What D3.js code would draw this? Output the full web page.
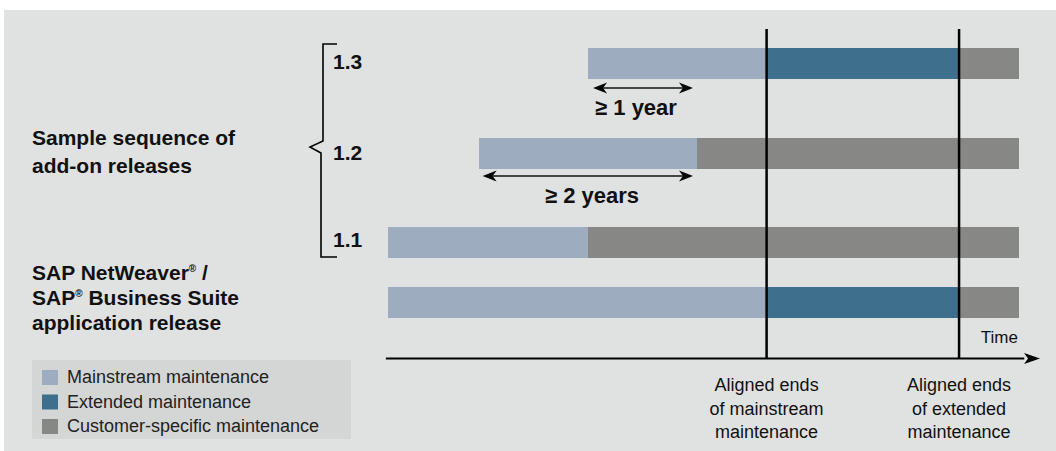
<!DOCTYPE html>
<html><head><meta charset="utf-8">
<script src="https://cdn.jsdelivr.net/npm/d3@7"></script>
<style>
html,body{margin:0;padding:0;background:#fff;}
svg{display:block;font-family:"Liberation Sans",Arial,sans-serif;}
</style></head>
<body><svg id="c" width="1056" height="451"></svg>
<script>
// ---- data (time in years from the first release start) ----
const releases = ["1.3", "1.2", "1.1", "app"];
const mainStart = [1.9, 0.87, 0, 0];
const mainEnd   = [3.6, 2.94, 1.9, 3.6];
const extEnd    = [5.43, 2.94, 1.9, 5.43];
const endTime   = [6, 6, 6, 6];
const alignedEnds = [3.6, 5.43];
const alignedLabels = [["Aligned ends","of mainstream","maintenance"],["Aligned ends","of extended","maintenance"]];
const gapArrows = [{from:1.95, to:2.9, row:0, label:"≥ 1 year"},{from:0.9, to:2.9, row:1, label:"≥ 2 years"}];
const legendNames = ["Mainstream maintenance","Extended maintenance","Customer-specific maintenance"];
const legendColors = ["#9dacbf","#3e6f8d","#878786"];

// ---- layout ----
const svg = d3.select("#c");
svg.append("rect").attr("x",4).attr("y",10).attr("width",1052).attr("height",441).attr("fill","#e0e1e1");

const x = d3.scaleLinear().domain([0,6]).range([388,1019]);
const y = d3.scaleLinear().domain([0,1]).range([48,137.5]);
const rowPos = [0,1,2,2.67];
const barH = 31;

// bars
const segs = [];
releases.forEach((r,i)=>{
  segs.push({i, a:mainStart[i], b:mainEnd[i], c:legendColors[0]});
  if (extEnd[i] > mainEnd[i]) segs.push({i, a:mainEnd[i], b:extEnd[i], c:legendColors[1]});
  segs.push({i, a:extEnd[i], b:endTime[i], c:legendColors[2]});
});
svg.append("g").selectAll("rect").data(segs).join("rect")
  .attr("x",d=>x(d.a)).attr("width",d=>x(d.b)-x(d.a))
  .attr("y",d=>y(rowPos[d.i])).attr("height",barH)
  .attr("fill",d=>d.c).attr("shape-rendering","crispEdges");

// axis
const axisY = 358.5;
svg.append("line").attr("x1",x(-0.02)).attr("x2",x(6.05)).attr("y1",axisY).attr("y2",axisY)
  .attr("stroke","#000").attr("stroke-width",2);
const tip = x(6.2);
svg.append("path").attr("d",`M${tip},${axisY} L${tip-16},${axisY-5.5} L${tip-12},${axisY} L${tip-16},${axisY+5.5} Z`).attr("fill","#000");
svg.append("text").attr("x",x(6)-1).attr("y",343).attr("text-anchor","end")
  .attr("font-size",17).attr("fill","#111").text("Time");

// aligned end lines
svg.append("g").selectAll("line").data(alignedEnds).join("line")
  .attr("x1",d=>x(d)).attr("x2",d=>x(d)).attr("y1",29).attr("y2",axisY)
  .attr("stroke","#000").attr("stroke-width",2.5);
alignedEnds.forEach((v,k)=>{
  const t = svg.append("text").attr("text-anchor","middle").attr("font-size",18).attr("fill","#111");
  alignedLabels[k].forEach((s,j)=>t.append("tspan").attr("x",x(v)).attr("y",391+j*23.5).text(s));
});

// gap arrows
function arrowHead(px,py,dir){
  const L=14, H=5.5, in_=4;
  return `M${px},${py} L${px-dir*L},${py-H} L${px-dir*(L-in_)},${py} L${px-dir*L},${py+H} Z`;
}
const arrowY = [88, 176];
gapArrows.forEach((g,k)=>{
  const a=x(g.from), b=x(g.to), yy=arrowY[k];
  svg.append("line").attr("x1",a+4).attr("x2",b-4).attr("y1",yy).attr("y2",yy).attr("stroke","#111").attr("stroke-width",1.6);
  svg.append("path").attr("d",arrowHead(a,yy,-1)).attr("fill","#000");
  svg.append("path").attr("d",arrowHead(b,yy,1)).attr("fill","#000");
});
svg.append("text").attr("x",636).attr("y",115).attr("text-anchor","middle").attr("font-size",22).attr("font-weight","bold").attr("fill","#111").text(gapArrows[0].label);
svg.append("text").attr("x",592).attr("y",203).attr("text-anchor","middle").attr("font-size",22).attr("font-weight","bold").attr("fill","#111").text(gapArrows[1].label);

// brace
svg.append("path").attr("d","M337,44 L323,44 L323,141 L310,147 L321,153 L321,257 L337,257")
  .attr("fill","none").attr("stroke","#000").attr("stroke-width",1.6);
const relLabelY = [69,160,247];
["1.3","1.2","1.1"].forEach((s,i)=>{
  svg.append("text").attr("x",333).attr("y",relLabelY[i]).attr("font-size",21).attr("font-weight","bold").attr("fill","#111").text(s);
});

// left labels
const lt = svg.append("text").attr("font-size",21).attr("font-weight","bold").attr("fill","#111");
lt.append("tspan").attr("x",32).attr("y",145).text("Sample sequence of");
lt.append("tspan").attr("x",32).attr("y",173).text("add-on releases");
const st = svg.append("text").attr("font-size",21).attr("font-weight","bold").attr("fill","#111");
const l1 = st.append("tspan").attr("x",32).attr("y",280);
l1.append("tspan").text("SAP NetWeaver");
l1.append("tspan").attr("font-size",10).attr("dy",-8).text("®");
l1.append("tspan").attr("dy",8).text(" /");
const l2 = st.append("tspan").attr("x",32).attr("y",305);
l2.append("tspan").text("SAP");
l2.append("tspan").attr("font-size",10).attr("dy",-8).text("®");
l2.append("tspan").attr("dy",8).text(" Business Suite");
st.append("tspan").attr("x",32).attr("y",330).text("application release");

// legend
svg.append("rect").attr("x",32).attr("y",360).attr("width",319).attr("height",79).attr("fill","#d4d5d5");
const lg = svg.append("g").selectAll("g").data(legendNames).join("g")
  .attr("transform",(d,i)=>`translate(42,${370+i*24.5})`);
lg.append("rect").attr("width",16).attr("height",15).attr("fill",(d,i)=>legendColors[i]);
lg.append("text").attr("x",25).attr("y",13).attr("font-size",18).attr("fill","#222").text(d=>d);
</script></body></html>
